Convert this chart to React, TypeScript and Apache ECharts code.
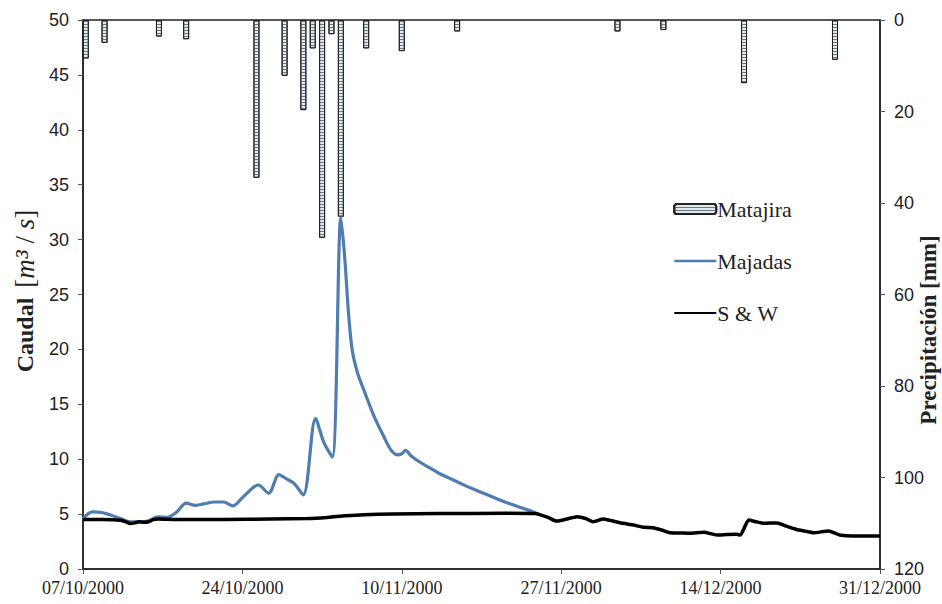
import React, { useEffect, useRef } from "react";
import * as echarts from "echarts";

// x tick labels (every 17 days starting 07/10/2000)
const xTickLabels = ["07/10/2000", "24/10/2000", "10/11/2000", "27/11/2000", "14/12/2000", "31/12/2000"];

// Precipitation Matajira (day offset from 07/10/2000, mm)
const rainDays = [0.3, 2.3, 8.1, 11.0, 18.5, 21.5, 23.5, 24.5, 25.5, 26.5, 27.5, 30.2, 34.0, 39.9, 57.0, 61.9, 70.5, 80.2];
const rainMm = [8.4, 5.0, 3.6, 4.2, 34.5, 12.2, 19.7, 6.2, 47.6, 3.1, 43, 6.2, 6.8, 2.5, 2.5, 2.2, 13.8, 8.7];

// Majadas discharge
const majadasDays = [0, 1, 2, 3, 4, 5, 6, 7, 8, 9, 10, 11, 12, 13, 14, 15, 16, 17, 18.7, 19.8, 20.9, 21.7, 22.5, 23.5, 24.8, 25.7, 26.6, 27.5, 27.9, 28.3, 28.7, 29.3, 30, 31, 32, 32.8, 33.5, 34, 34.4, 35, 36, 37, 38, 39, 40, 41, 42, 43, 44, 45, 46, 47, 48, 48.7];
const majadasQ = [4.6, 5.2, 5.15, 4.9, 4.6, 4.3, 4.3, 4.4, 4.75, 4.7, 5.2, 6.0, 5.8, 5.95, 6.1, 6.1, 5.75, 6.5, 7.65, 6.9, 8.6, 8.2, 7.8, 6.75, 13.7, 11.5, 10.2, 32, 28.5, 23.5, 20.0, 17.8, 16.2, 14.0, 12.2, 10.9, 10.4, 10.5, 10.8, 10.3, 9.7, 9.2, 8.7, 8.3, 7.9, 7.5, 7.15, 6.8, 6.45, 6.1, 5.8, 5.5, 5.2, 4.95];

// S & W discharge
const swDays = [0, 2, 4, 4.6, 5, 5.5, 6, 6.5, 7, 7.5, 8, 10, 15, 20, 24, 26, 28, 30, 33, 38, 45, 48.2, 48.7, 49.6, 50.5, 51.6, 52.7, 53.6, 54.4, 55.5, 56.6, 57.6, 58.7, 59.8, 60.8, 61.7, 62.6, 63.7, 64.7, 66.2, 67.6, 68.7, 69.7, 70.1, 71.0, 71.8, 72.6, 74.0, 75.0, 76.1, 77.0, 77.9, 79.5, 80.7, 82.5, 85];
const swQ = [4.5, 4.5, 4.45, 4.3, 4.15, 4.2, 4.3, 4.25, 4.3, 4.5, 4.55, 4.5, 4.5, 4.55, 4.6, 4.7, 4.85, 4.95, 5.0, 5.05, 5.07, 5.05, 4.95, 4.7, 4.37, 4.55, 4.76, 4.6, 4.3, 4.55, 4.35, 4.16, 4.0, 3.8, 3.76, 3.55, 3.3, 3.28, 3.25, 3.34, 3.1, 3.15, 3.16, 3.1, 4.46, 4.3, 4.16, 4.2, 3.9, 3.6, 3.45, 3.3, 3.46, 3.1, 3.0, 3.0];

const seriesNames = ["Matajira", "Majadas", "S & W"];

export default function App() {
  const ref = useRef<HTMLDivElement>(null);
  useEffect(() => {
    if (!ref.current) return;
    const chart = echarts.init(ref.current, null, { renderer: "svg" });
    const axisLineStyle = { color: "#222", width: 1.5 };
    const option: any = {
      animation: false,
      backgroundColor: "#fff",
      grid: { left: 83, right: 62, top: 20, bottom: 35, show: true, borderColor: "#222", borderWidth: 1.5 },
      legend: {
        data: [
          { name: seriesNames[0] },
          { name: seriesNames[1], itemStyle: { opacity: 0 }, lineStyle: { width: 2.5 } },
          { name: seriesNames[2], itemStyle: { opacity: 0 } },
        ],
        orient: "vertical",
        left: 668,
        top: 193,
        itemGap: 30,
        itemWidth: 42,
        itemHeight: 10,
        textStyle: { fontFamily: "Liberation Serif", fontSize: 22, color: "#222", padding: [0, 0, 0, -4] },
      },
      xAxis: {
        type: "value",
        min: 0,
        max: 85,
        interval: 17,
        axisLine: { show: true, lineStyle: axisLineStyle },
        axisTick: { show: true, length: 5, lineStyle: { color: "#555" } },
        splitLine: { show: false },
        axisLabel: {
          formatter: (v: number) => xTickLabels[Math.round(v / 17)] ?? "",
          fontFamily: "Liberation Serif",
          fontSize: 18,
          color: "#222",
          margin: 10,
          showMinLabel: true,
          showMaxLabel: true,
        },
      },
      yAxis: [
        {
          type: "value",
          min: 0,
          max: 50,
          interval: 5,
          position: "left",
          axisLine: { show: true, lineStyle: axisLineStyle },
          axisTick: { show: true, length: 5, lineStyle: { color: "#555" } },
          splitLine: { show: false },
          axisLabel: { fontFamily: "Liberation Sans", fontSize: 18, color: "#222", margin: 14 },
        },
        {
          type: "value",
          min: 0,
          max: 120,
          interval: 20,
          inverse: true,
          position: "right",
          axisLine: { show: true, lineStyle: axisLineStyle },
          axisTick: { show: true, length: 5, lineStyle: { color: "#555" } },
          splitLine: { show: false },
          axisLabel: { fontFamily: "Liberation Sans", fontSize: 18, color: "#222", margin: 14 },
        },
      ],
      series: [
        {
          name: "Matajira",
          type: "bar",
          yAxisIndex: 1,
          barWidth: 6,
          data: rainDays.map((d, i) => [d, rainMm[i]]),
          itemStyle: {
            color: "#dfe9ee",
            borderColor: "#222",
            borderWidth: 1,
            decal: { symbol: "rect", symbolSize: 1, dashArrayX: [1, 0], dashArrayY: [1, 2], color: "#6d7880", backgroundColor: "#dfe9ee" },
          },
          z: 1,
        },
        {
          name: "Majadas",
          type: "line",
          yAxisIndex: 0,
          data: majadasDays.map((d, i) => [d, majadasQ[i]]),
          showSymbol: false,
          symbol: "none",
          smooth: 0.3,
          lineStyle: { color: "#4f7db0", width: 3.2 },
          itemStyle: { color: "#4f7db0" },
          z: 3,
        },
        {
          name: "S & W",
          type: "line",
          yAxisIndex: 0,
          data: swDays.map((d, i) => [d, swQ[i]]),
          showSymbol: false,
          symbol: "none",
          smooth: 0.2,
          lineStyle: { color: "#000", width: 3.5 },
          itemStyle: { color: "#000" },
          z: 4,
        },
      ],
      graphic: [
        {
          type: "text",
          x: 25,
          y: 291,
          rotation: Math.PI / 2,
          style: {
            text: "{b|Caudal}   {n|[}{i|m}{s|³}{n| / }{i|s}{n|]}",
            rich: {
              b: { fontFamily: "Liberation Serif", fontWeight: "bold", fontSize: 24, fill: "#222" },
              n: { fontFamily: "Liberation Serif", fontSize: 27, fill: "#222" },
              i: { fontFamily: "Liberation Serif", fontStyle: "italic", fontSize: 27, fill: "#222" },
              s: { fontFamily: "Liberation Serif", fontStyle: "italic", fontSize: 30, fill: "#222" },
            },
            align: "center",
            verticalAlign: "middle",
          },
        },
        {
          type: "text",
          x: 928,
          y: 330,
          rotation: Math.PI / 2,
          style: {
            text: "Precipitación [mm]",
            font: "bold 23px 'Liberation Serif'",
            fill: "#222",
            align: "center",
            verticalAlign: "middle",
          },
        },
      ],
    };
    chart.setOption(option);
    return () => chart.dispose();
  }, []);
  return <div ref={ref} style={{ width: 942, height: 604, position: "absolute", left: 0, top: 0 }} />;
}
